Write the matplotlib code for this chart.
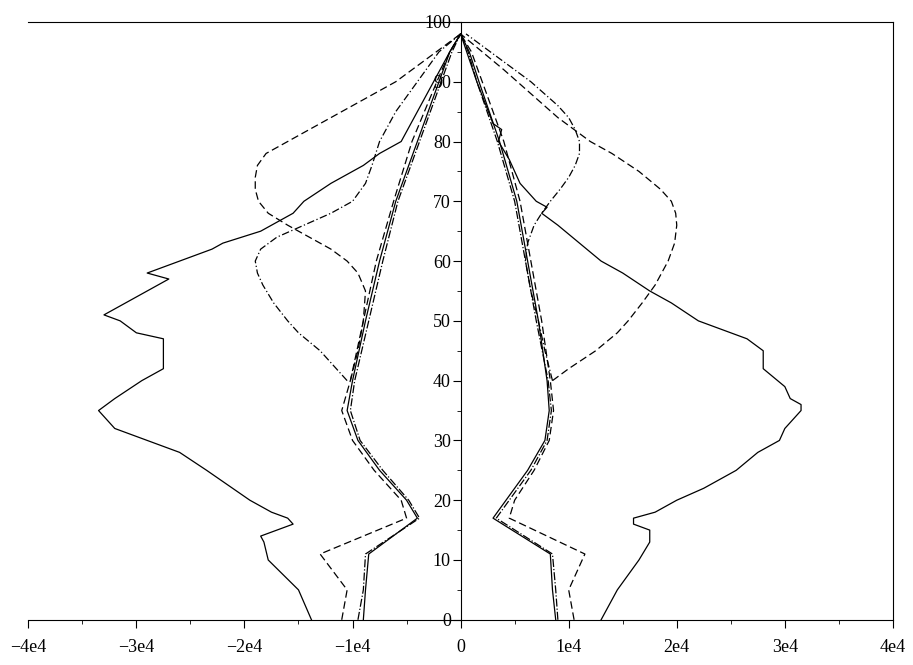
import matplotlib
matplotlib.use("Agg")
import matplotlib.pyplot as plt
import numpy as np

plt.rcParams['font.family'] = ['Liberation Serif', 'DejaVu Serif']

# solid jagged (left, right) in units of 1e4
sl_age = [0,5,10,13,14,15,16,17,18,20,25,28,30,32,34,35,37,40,42,45,47,48,50,51,52,54,57,58,60,62,63,65,68,69,70,73,76,78,80,85,90,95,98]
sl_val = [-1.38,-1.5,-1.78,-1.82,-1.85,-1.7,-1.55,-1.6,-1.75,-1.95,-2.35,-2.6,-2.9,-3.2,-3.3,-3.35,-3.2,-2.95,-2.75,-2.75,-2.75,-3.0,-3.15,-3.3,-3.2,-3.0,-2.7,-2.9,-2.6,-2.3,-2.2,-1.85,-1.55,-1.5,-1.45,-1.2,-0.9,-0.75,-0.55,-0.4,-0.25,-0.1,0]
sr_age = [0,5,10,13,15,16,17,18,20,22,25,28,30,32,35,36,37,39,42,45,47,48,50,53,55,58,60,63,66,68,69,70,73,77,80,82,83,90,98]
sr_val = [1.3,1.45,1.65,1.75,1.75,1.6,1.6,1.8,2.0,2.25,2.55,2.75,2.95,3.0,3.15,3.15,3.05,3.0,2.8,2.8,2.65,2.5,2.2,1.95,1.75,1.5,1.3,1.1,0.9,0.75,0.8,0.7,0.55,0.45,0.35,0.38,0.3,0.15,0]

# cluster lines
c_age = [0,5,11,17,20,25,30,35,40,50,60,70,80,90,95,98]
cl1 = [-0.9,-0.88,-0.85,-0.4,-0.5,-0.75,-0.95,-1.05,-1.0,-0.88,-0.75,-0.6,-0.4,-0.2,-0.1,0]
cl2 = [-1.1,-1.05,-1.3,-0.5,-0.55,-0.8,-1.0,-1.1,-1.02,-0.9,-0.78,-0.62,-0.45,-0.22,-0.1,0]
cl3 = [-0.95,-0.9,-0.88,-0.38,-0.48,-0.72,-0.93,-1.02,-0.98,-0.85,-0.72,-0.58,-0.38,-0.18,-0.08,0]
cr1 = [0.88,0.85,0.83,0.3,0.42,0.62,0.78,0.82,0.8,0.72,0.62,0.52,0.36,0.17,0.08,0]
cr2 = [1.05,1.0,1.15,0.45,0.5,0.68,0.82,0.86,0.83,0.75,0.65,0.55,0.4,0.2,0.1,0]
cr3 = [0.9,0.88,0.85,0.33,0.45,0.65,0.8,0.84,0.81,0.7,0.6,0.5,0.34,0.15,0.07,0]

# bulges
bl1_age = [40,45,50,55,58,60,62,64,66,68,70,72,74,76,78,80,83,86,90,94,98]
bl1_val = [-1.02,-0.95,-0.9,-0.88,-0.95,-1.05,-1.2,-1.4,-1.6,-1.78,-1.87,-1.9,-1.9,-1.88,-1.8,-1.6,-1.3,-1.0,-0.6,-0.3,0]
bl2_age = [40,42,45,48,50,53,56,58,60,62,64,66,68,70,73,76,80,85,90,95,98]
bl2_val = [-1.05,-1.15,-1.3,-1.5,-1.6,-1.73,-1.83,-1.88,-1.9,-1.85,-1.7,-1.45,-1.2,-1.0,-0.88,-0.82,-0.75,-0.6,-0.4,-0.2,0]
br1_age = [40,42,45,48,50,53,56,60,63,66,68,70,72,75,78,80,84,88,92,95,98]
br1_val = [0.85,1.0,1.25,1.45,1.55,1.68,1.8,1.92,1.98,2.0,1.99,1.95,1.85,1.65,1.4,1.2,0.9,0.65,0.4,0.2,0]
br2_age = [40,45,50,55,60,63,66,68,70,72,74,76,78,80,82,84,86,90,94,98]
br2_val = [0.85,0.78,0.72,0.65,0.6,0.62,0.68,0.75,0.83,0.92,1.0,1.06,1.1,1.1,1.06,1.0,0.9,0.65,0.35,0.05]

fig = plt.figure(figsize=(9.13,6.65), dpi=100)
ax = fig.add_axes([0.031, 0.068, 0.947, 0.899])
k = 1e4
kw = dict(color='black', lw=0.9)
ax.plot(np.array(sl_val)*k, sl_age, '-', **kw)
ax.plot(np.array(sr_val)*k, sr_age, '-', **kw)
ax.plot(np.array(cl1)*k, c_age, '-', **kw)
ax.plot(np.array(cl2)*k, c_age, '--', dashes=(6,3), **kw)
ax.plot(np.array(cl3)*k, c_age, '-.', **kw)
ax.plot(np.array(cr1)*k, c_age, '-', **kw)
ax.plot(np.array(cr2)*k, c_age, '--', dashes=(6,3), **kw)
ax.plot(np.array(cr3)*k, c_age, '-.', **kw)
ax.plot(np.array(bl1_val)*k, bl1_age, '--', dashes=(6,3), **kw)
ax.plot(np.array(bl2_val)*k, bl2_age, '-.', dashes=(6,2,1,2), **kw)
ax.plot(np.array(br1_val)*k, br1_age, '--', dashes=(6,3), **kw)
ax.plot(np.array(br2_val)*k, br2_age, '-.', dashes=(6,2,1,2), **kw)

ax.set_xlim(-4e4, 4e4)
ax.set_ylim(0, 100)
ax.spines['left'].set_position(('data', 0))
for s in ax.spines.values():
    s.set_linewidth(0.8)
xt = [-4e4,-3e4,-2e4,-1e4,0,1e4,2e4,3e4,4e4]
ax.set_xticks(xt)
ax.set_xticklabels(['\u22124e4','\u22123e4','\u22122e4','\u22121e4','0','1e4','2e4','3e4','4e4'])
ax.set_xticks(np.arange(-3.5e4,4e4,1e4), minor=True)
ax.set_yticks(range(0,101,10))
ax.set_yticks(range(5,100,10), minor=True)
ax.tick_params(axis='x', direction='out', length=6, labelsize=13, pad=8)
ax.tick_params(axis='x', which='minor', direction='out', length=3)
ax.tick_params(axis='y', direction='out', length=6, labelsize=13, pad=1)
ax.tick_params(axis='y', which='minor', direction='out', length=3)
ax.tick_params(right=False, top=False)
fig.savefig('out.png', dpi=100)
